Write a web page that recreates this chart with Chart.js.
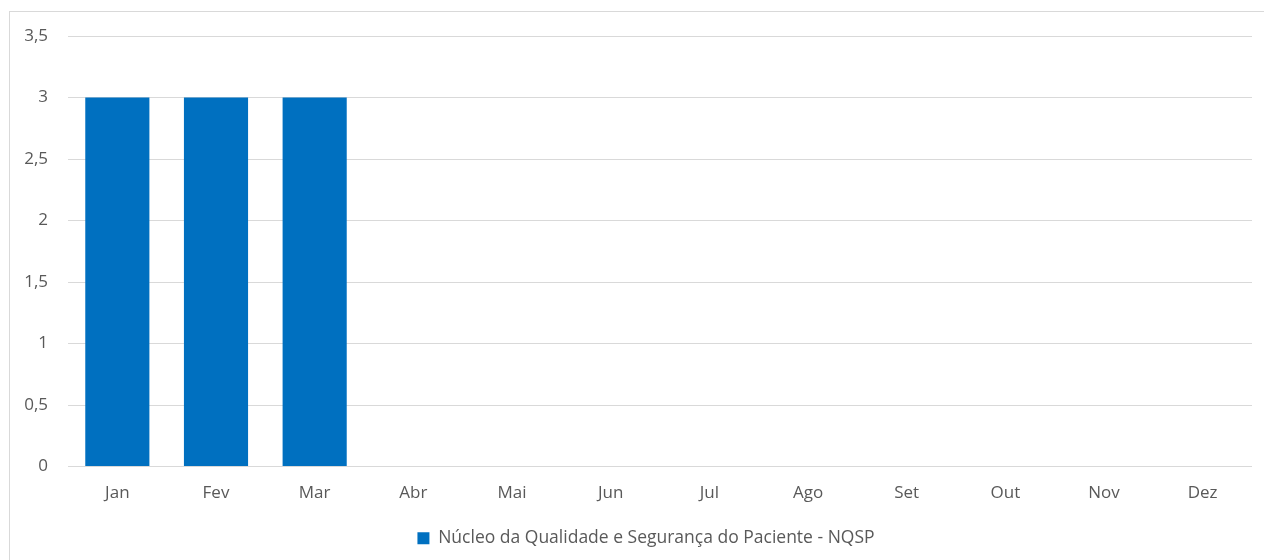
<!DOCTYPE html>
<html><head><meta charset="utf-8">
<script src="https://cdn.jsdelivr.net/npm/chart.js@4"></script>
<style>
html,body{margin:0;padding:0;background:#fff;overflow:hidden}
#wrap{position:relative;width:1264px;height:560px}
#frame{position:absolute;left:9px;top:11px;width:1260px;height:560px;border:1px solid #d9d9d9;box-sizing:border-box;pointer-events:none}
</style></head>
<body><div id="wrap"><canvas id="c" width="1264" height="560"></canvas><div id="frame"></div></div>
<script>
const categories = ['Jan','Fev','Mar','Abr','Mai','Jun','Jul','Ago','Set','Out','Nov','Dez'];
const seriesName = 'Núcleo da Qualidade e Segurança do Paciente - NQSP';
const values = [3,3,3,null,null,null,null,null,null,null,null,null];
const yTicks = [0,0.5,1,1.5,2,2.5,3,3.5];

const chart = new Chart(document.getElementById('c'), {
  type:'bar',
  data:{labels:categories,datasets:[{label:seriesName,data:values,backgroundColor:'#0070c0',borderWidth:0,barPercentage:0.65,categoryPercentage:1}]},
  options:{
    responsive:false,animation:false,
    layout:{padding:{left:0,right:12,top:36,bottom:3}},
    plugins:{
      legend:{position:'bottom',labels:{boxWidth:12,boxHeight:12,color:'#595959',font:{family:'Open Sans',size:17.5},padding:14}},
      tooltip:{enabled:false}
    },
    scales:{
      x:{grid:{display:false},border:{display:false},
        ticks:{color:'#595959',font:{family:'Open Sans',size:17},padding:8},
        afterFit:s=>{s.height=49;}},
      y:{min:0,max:3.5,
        afterBuildTicks:s=>{s.ticks=yTicks.map(v=>({value:v}));},
        grid:{color:'#d9d9d9',lineWidth:1,drawTicks:false},border:{display:false},
        ticks:{color:'#595959',font:{family:'Open Sans',size:17},padding:20,
          callback:v=>String(v).replace('.',',')},
        afterFit:s=>{s.width=68;}}
    }
  }
});
const origLegendDraw = chart.legend.draw.bind(chart.legend);
chart.legend.draw = function(){ const ctx = chart.ctx; ctx.save(); ctx.translate(20,0); origLegendDraw(); ctx.restore(); };
chart.draw();
</script></body></html>
